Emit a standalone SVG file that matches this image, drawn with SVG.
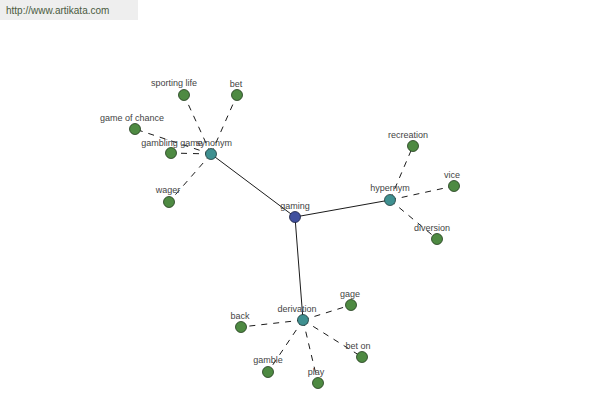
<svg xmlns="http://www.w3.org/2000/svg" width="600" height="400" viewBox="0 0 600 400">
<style>
text{font-family:"Liberation Sans",Arial,sans-serif;font-size:9px;fill:#444;text-anchor:middle}
.leaf{fill:#4e8a42;stroke:#1f3a1a;stroke-width:0.8}
.mid{fill:#3f9090;stroke:#1f3a3a;stroke-width:0.8}
.root{fill:#40509e;stroke:#1a1f40;stroke-width:0.8}
.s{stroke:#000;stroke-width:0.9;fill:none}
.d{stroke:#000;stroke-width:0.9;fill:none;stroke-dasharray:6,6}
</style>
<rect x="0" y="0" width="138" height="20" fill="#eeeeee"/>
<text x="6" y="14" style="text-anchor:start;font-size:10px;fill:#4a5a40">http://www.artikata.com</text>
<g id="connectors">
<line class="s" x1="295" y1="217" x2="211" y2="154"/>
<line class="s" x1="295" y1="217" x2="390" y2="200"/>
<line class="s" x1="295" y1="217" x2="303" y2="320"/>
<line class="d" x1="211" y1="154" x2="184" y2="95"/>
<line class="d" x1="211" y1="154" x2="237" y2="95"/>
<line class="d" x1="211" y1="154" x2="135" y2="129"/>
<line class="d" x1="211" y1="154" x2="171" y2="153"/>
<line class="d" x1="211" y1="154" x2="169" y2="202"/>
<line class="d" x1="390" y1="200" x2="413" y2="146"/>
<line class="d" x1="390" y1="200" x2="454" y2="186"/>
<line class="d" x1="390" y1="200" x2="437" y2="239"/>
<line class="d" x1="303" y1="320" x2="351" y2="305"/>
<line class="d" x1="303" y1="320" x2="241" y2="327"/>
<line class="d" x1="303" y1="320" x2="268" y2="372"/>
<line class="d" x1="303" y1="320" x2="318" y2="383"/>
<line class="d" x1="303" y1="320" x2="362" y2="357"/>
</g>
<g id="n-gaming"><circle class="root" cx="295" cy="217" r="5.5"/><text x="295" y="209">gaming</text></g>
<g id="n-synonym"><circle class="mid" cx="211" cy="154" r="5.5"/><text x="214" y="146">synonym</text></g>
<g id="n-hypernym"><circle class="mid" cx="390" cy="200" r="5.5"/><text x="390" y="191">hypernym</text></g>
<g id="n-derivation"><circle class="mid" cx="303" cy="320" r="5.5"/><text x="297" y="312">derivation</text></g>
<g id="n-sporting-life"><circle class="leaf" cx="184" cy="95" r="5.5"/><text x="174" y="86">sporting life</text></g>
<g id="n-bet"><circle class="leaf" cx="237" cy="95" r="5.5"/><text x="236" y="87">bet</text></g>
<g id="n-game-of-chance"><circle class="leaf" cx="135" cy="129" r="5.5"/><text x="132" y="121">game of chance</text></g>
<g id="n-gambling-game"><circle class="leaf" cx="171" cy="153" r="5.5"/><text x="172" y="146">gambling game</text></g>
<g id="n-wager"><circle class="leaf" cx="169" cy="202" r="5.5"/><text x="168" y="193">wager</text></g>
<g id="n-recreation"><circle class="leaf" cx="413" cy="146" r="5.5"/><text x="408" y="138">recreation</text></g>
<g id="n-vice"><circle class="leaf" cx="454" cy="186" r="5.5"/><text x="452" y="178">vice</text></g>
<g id="n-diversion"><circle class="leaf" cx="437" cy="239" r="5.5"/><text x="432" y="231">diversion</text></g>
<g id="n-gage"><circle class="leaf" cx="351" cy="305" r="5.5"/><text x="350" y="297">gage</text></g>
<g id="n-back"><circle class="leaf" cx="241" cy="327" r="5.5"/><text x="240" y="319">back</text></g>
<g id="n-gamble"><circle class="leaf" cx="268" cy="372" r="5.5"/><text x="268" y="363">gamble</text></g>
<g id="n-play"><circle class="leaf" cx="318" cy="383" r="5.5"/><text x="316" y="375">play</text></g>
<g id="n-bet-on"><circle class="leaf" cx="362" cy="357" r="5.5"/><text x="358" y="349">bet on</text></g>
</svg>
